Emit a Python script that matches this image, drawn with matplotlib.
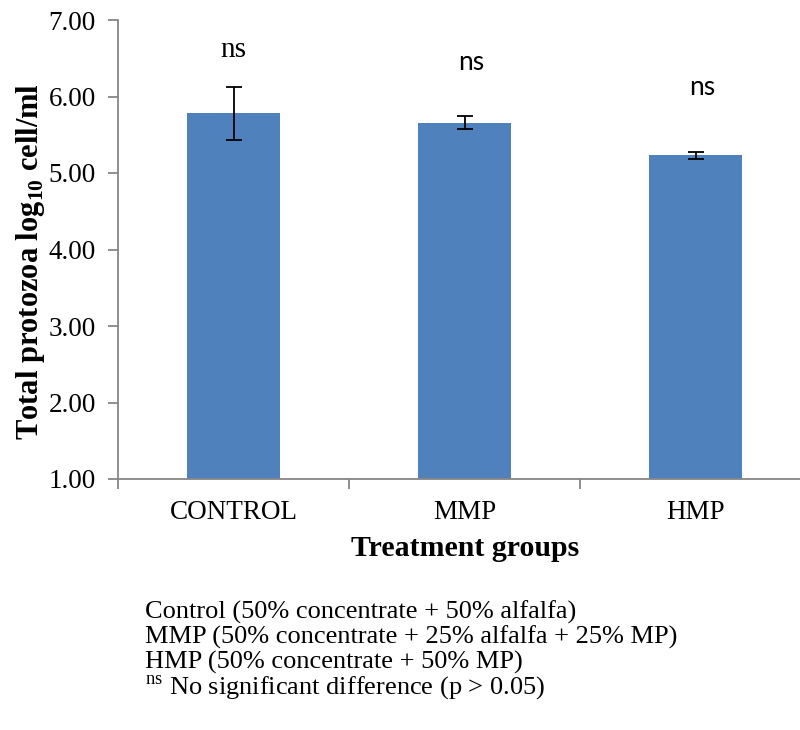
import numpy as np
import matplotlib
matplotlib.use("Agg")
import matplotlib.pyplot as plt

plt.rcParams['font.family'] = ['Liberation Serif', 'DejaVu Serif']
plt.rcParams['mathtext.fontset'] = 'custom'
plt.rcParams['mathtext.rm'] = 'Liberation Serif'
plt.rcParams['mathtext.bf'] = 'Liberation Serif:bold'

# Total protozoa per treatment group (log10 cell/ml), mean and SD
groups = ['CONTROL', 'MMP', 'HMP']
means = [5.78, 5.66, 5.23]
errors = [0.35, 0.08, 0.05]
sig_labels = ['ns', 'ns', 'ns']
sig_heights = [6.61, 6.45, 6.12]
notes = ['Control (50% concentrate + 50% alfalfa)',
         'MMP (50% concentrate + 25% alfalfa + 25% MP)',
         'HMP (50% concentrate + 50% MP)',
         r'$^{\mathrm{ns}}$ No significant difference (p > 0.05)']

bar_color = '#4F81BD'
axis_color = '#868686'

fig = plt.figure(figsize=(8, 7.3), dpi=100)
ax = fig.add_axes([118/800, 251/730, 693/800, 459/730])

x = np.arange(len(groups))
ax.bar(x, np.array(means) - 1, bottom=1, width=0.4, color=bar_color, zorder=2)
ax.errorbar(x, means, yerr=errors, fmt='none', ecolor='black',
            elinewidth=1.3, capsize=6, capthick=1.3, zorder=3)

# first label in serif, the others in a sans face
for i, (lab, h) in enumerate(zip(sig_labels, sig_heights)):
    if i == 0:
        ax.text(x[i], h, lab, ha='center', va='center', fontsize=21)
    else:
        ax.text(x[i] + 0.03, h, lab, ha='center', va='center', fontsize=19,
                family=['Lato', 'DejaVu Sans'])

ax.set_xlim(-0.5, 2.5)
ax.set_ylim(1, 7)
ax.set_yticks(np.arange(1, 8))
ax.set_yticklabels([f'{v:.2f}' for v in np.arange(1, 8)], fontsize=19.5)
ax.set_xticks(x)
ax.set_xticklabels(groups, fontsize=19.5)
ax.set_xticks(np.arange(-0.5, 3.0, 1.0), minor=True)
ax.tick_params(axis='x', which='major', length=0, pad=15)
ax.tick_params(axis='x', which='minor', length=7, color=axis_color, width=1.3)
ax.tick_params(axis='y', length=7, color=axis_color, width=1.3, pad=9)

for side in ['top', 'right']:
    ax.spines[side].set_visible(False)
for side in ['left', 'bottom']:
    ax.spines[side].set_color(axis_color)
    ax.spines[side].set_linewidth(1.3)

fig.text(31/800, 1 - 262/730, r'Total protozoa log$_{\mathbf{10}}$ cell/ml',
         rotation=90, ha='center', va='center', fontsize=22, fontweight='bold')
fig.text(465/800, 1 - 549/730, 'Treatment groups', ha='center', va='center',
         fontsize=21.5, fontweight='bold')

for i, line in enumerate(notes):
    fig.text(145/800, 1 - (612 + 25.3*i)/730, line, ha='left', va='center',
             fontsize=19)

fig.savefig('out.png', dpi=100)
